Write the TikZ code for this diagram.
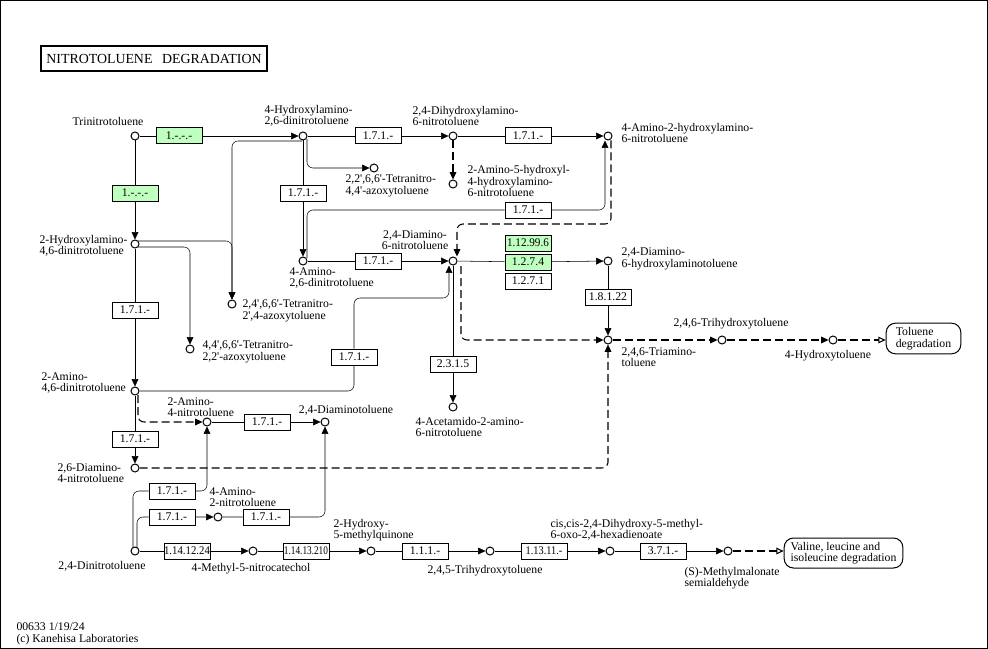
\documentclass[tikz,border=0pt]{standalone}
\usepackage{fontspec}
\setmainfont{Liberation Serif}
\usetikzlibrary{arrows.meta,positioning,backgrounds}
\definecolor{kgreen}{HTML}{BFFFBF}
\newcommand{\kfont}{\fontsize{8.8pt}{8.7pt}\selectfont}
\newcommand{\kcond}[2]{\scalebox{#1}[1]{#2}}
\newcommand{\pr}{\textquotesingle}
\tikzset{
    cpd/.style={circle, draw, fill=white, inner sep=0pt, minimum size=6pt},
    enz/.style={draw, fill=white, inner sep=0pt, minimum width=34.5pt, minimum height=12pt, font=\kfont},
    enzg/.style={enz, fill=kgreen},
    lbl/.style={inner sep=0pt, align=left, font=\kfont},
    mapbox/.style={draw, fill=white, rounded corners=7pt, inner sep=0pt, align=left, font=\kfont},
    arr/.style={-{Triangle[length=5.5pt,width=5pt]}},
    arro/.style={-{Triangle[open,length=5.5pt,width=5pt]}},
    dsh/.style={dash pattern=on 6pt off 3pt, line width=0.8pt},
    rnd/.style={rounded corners=4.5pt}
}
\begin{document}
\begin{tikzpicture}[x=0.75pt, y=-0.75pt, line width=0.75pt]
    %--------------------%
    % Frame and Title
    %--------------------%
    \useasboundingbox (0,0) rectangle (988,649);
    \draw (0.5,0.5) rectangle (987.5,648.5);
    \node[draw, line width=1.5pt, minimum width=169.5pt, minimum height=18.75pt, inner sep=0pt,
        font=\fontsize{10.4pt}{12pt}\selectfont] (title) at (154,59) {NITROTOLUENE\hspace{0.7em}DEGRADATION};

    %--------------------%
    % Compounds
    %--------------------%
    \node[cpd] (tnt) at (135,136) {};
    \node[cpd] (hadnt4) at (303,136) {};
    \node[cpd] (dhant) at (453,136) {};
    \node[cpd] (ahant) at (608,136) {};
    \node[cpd] (ahhant) at (453,184) {};
    \node[cpd] (azo1) at (374,168) {};
    \node[cpd] (hadnt2) at (135,244) {};
    \node[cpd] (adnt4) at (303,261) {};
    \node[cpd] (dant24) at (453,261) {};
    \node[cpd] (dahat) at (608,261) {};
    \node[cpd] (azo2) at (232,304) {};
    \node[cpd] (azo3) at (190,349) {};
    \node[cpd] (tat) at (608,340) {};
    \node[cpd] (tht246) at (722,340) {};
    \node[cpd] (ht4) at (833,340) {};
    \node[cpd] (adnt2) at (135,391) {};
    \node[cpd] (aant) at (453,407) {};
    \node[cpd] (ant2) at (207,422) {};
    \node[cpd] (dat) at (325,422) {};
    \node[cpd] (dant26) at (135,468) {};
    \node[cpd] (ant4) at (218,517) {};
    \node[cpd] (dnt) at (135,551) {};
    \node[cpd] (mnc) at (253,551) {};
    \node[cpd] (hmq) at (371,551) {};
    \node[cpd] (tht245) at (490,551) {};
    \node[cpd] (dhmoh) at (610,551) {};
    \node[cpd] (mmsa) at (728,551) {};

    %--------------------%
    % Pathway Maps
    %--------------------%
    \node[mapbox, minimum width=56pt, minimum height=23pt] (map_tol) at (923.5,338.5) {Toluene\\degradation};
    \node[mapbox, minimum width=89pt, minimum height=22.5pt] (map_val) at (843.5,553) {Valine, leucine and\\isoleucine degradation};

    %--------------------%
    % Enzymes
    %--------------------%
    \node[enzg] (e_tnt_a) at (179,136) {1.-.-.-};
    \node[enzg] (e_tnt_b) at (135,193) {1.-.-.-};
    \node[enz] (e_h4_dh) at (378,136) {1.7.1.-};
    \node[enz] (e_dh_ah) at (528,136) {1.7.1.-};
    \node[enz] (e_h4_a4) at (303,193) {1.7.1.-};
    \node[enz] (e_a4_ah) at (528,210) {1.7.1.-};
    \node[enz] (e_a4_da) at (378,261) {1.7.1.-};
    \node[enzg] (e_da_1274) at (528,262) {1.2.7.4};
    \node[enzg, above=1.5pt of e_da_1274] (e_da_11299) {\kcond{0.95}{1.12.99.6}};
    \node[enz, below=1.5pt of e_da_1274] (e_da_1271) {1.2.7.1};
    \node[enz] (e_dh_tat) at (608,297) {1.8.1.22};
    \node[enz] (e_da_aa) at (453,364) {2.3.1.5};
    \node[enz] (e_h2_a2) at (135,310) {1.7.1.-};
    \node[enz] (e_a2_da) at (354,357) {1.7.1.-};
    \node[enz] (e_a2_d26) at (135,439) {1.7.1.-};
    \node[enz] (e_n2_dat) at (267,422) {1.7.1.-};
    \node[enz] (e_dnt_n2) at (172,491) {1.7.1.-};
    \node[enz] (e_dnt_n4) at (172,517) {1.7.1.-};
    \node[enz] (e_n4_dat) at (266,517) {1.7.1.-};
    \node[enz] (e_dnt_mnc) at (187,551) {\kcond{0.92}{1.14.12.24}};
    \node[enz] (e_mnc_hmq) at (306,551) {\kcond{0.79}{1.14.13.210}};
    \node[enz] (e_hmq_tht) at (425,551) {1.1.1.-};
    \node[enz] (e_tht_dh) at (544,551) {\kcond{0.88}{1.13.11.-}};
    \node[enz] (e_dh_mm) at (663,551) {3.7.1.-};

    %--------------------%
    % Connections
    %--------------------%
    \begin{scope}[on background layer]
    % Trinitrotoluene
    \draw[arr] (tnt) -- (e_tnt_a) -- (hadnt4);
    \draw[arr] (tnt) -- (e_tnt_b) -- (hadnt2);
    % 4-Hydroxylamino-2,6-dinitrotoluene
    \draw[arr] (hadnt4) -- (e_h4_dh) -- (dhant);
    \draw[arr] (hadnt4) -- (e_h4_a4) -- (adnt4);
    \draw[arr, rnd] ([shift={(4,3)}]hadnt4.center) |- (azo1);
    \draw[arr, rnd] ([shift={(-1,5)}]hadnt4.center) -| (azo2);
    % 2,4-Dihydroxylamino-6-nitrotoluene
    \draw[arr] (dhant) -- (e_dh_ah) -- (ahant);
    \draw[arr, dsh] (dhant) -- (ahhant);
    % 2-Hydroxylamino-4,6-dinitrotoluene
    \draw[arr] (hadnt2) -- (e_h2_a2) -- (adnt2);
    \draw[arr, rnd] ([shift={(3,-3)}]hadnt2.center) -| (azo2);
    \draw[arr, rnd] ([shift={(3,3)}]hadnt2.center) -| (azo3);
    % 4-Amino-2,6-dinitrotoluene
    \draw[arr] (adnt4) -- (e_a4_da) -- (dant24);
    \draw[arr, rnd] ([shift={(4,-3)}]adnt4.center) |- (e_a4_ah) -| ([shift={(-3,0)}]ahant.south);
    \draw[arr, dsh, rnd] ([shift={(3,0)}]ahant.south) |- ([shift={(4,-37)}]dant24.center) -- ([shift={(4,0)}]dant24.north);
    % 2,4-Diamino-6-nitrotoluene
    \draw[arr] (dant24) -- (e_da_1274) -- (dahat);
    \draw[arr] (dahat) -- (e_dh_tat) -- (tat);
    \draw[arr] (dant24) -- (e_da_aa) -- (aant);
    \draw[arr, dsh, rnd] ([shift={(8,5)}]dant24.center) |- (tat);
    % 2-Amino-4,6-dinitrotoluene
    \draw[arr, rnd] (adnt2) -| (e_a2_da) |- ([shift={(-4,37)}]dant24.center) -- ([shift={(-4,0)}]dant24.south);
    \draw[arr] (adnt2) -- (e_a2_d26) -- (dant26);
    \draw[arr, dsh, rnd] ([shift={(3,4)}]adnt2.center) |- (ant2);
    \draw[arr, dsh, rnd] (dant26) -| (tat);
    % 2,4-Dinitrotoluene
    \draw[arr] (ant2) -- (e_n2_dat) -- (dat);
    \draw[arr, rnd] ([shift={(-2,-3)}]dnt.center) |- (e_dnt_n2) -| (ant2);
    \draw[arr, rnd] ([shift={(2,-3)}]dnt.center) |- (e_dnt_n4) -- (ant4);
    \draw[arr, rnd] (ant4) -- (e_n4_dat) -| (dat);
    \draw[arr] (dnt) -- (e_dnt_mnc) -- (mnc);
    \draw[arr] (mnc) -- (e_mnc_hmq) -- (hmq);
    \draw[arr] (hmq) -- (e_hmq_tht) -- (tht245);
    \draw[arr] (tht245) -- (e_tht_dh) -- (dhmoh);
    \draw[arr] (dhmoh) -- (e_dh_mm) -- (mmsa);
    \draw[arro, dsh] (mmsa) -- (mmsa -| map_val.west);
    % 2,4,6-Triaminotoluene
    \draw[arr, dsh] (tat) -- (tht246);
    \draw[arr, dsh] (tht246) -- (ht4);
    \draw[arro, dsh] (ht4) -- (ht4 -| map_tol.west);
    \end{scope}

    %--------------------%
    % Compound Labels
    %--------------------%
    \node[lbl] (l_tnt) at (108,121) {Trinitrotoluene};
    \node[lbl, anchor=west] (l_hadnt4) at (264,116) {4-Hydroxylamino-\\2,6-dinitrotoluene};
    \node[lbl, anchor=west] (l_dhant) at (412,116) {2,4-Dihydroxylamino-\\6-nitrotoluene};
    \node[lbl, anchor=west] (l_ahant) at (621,133) {4-Amino-2-hydroxylamino-\\6-nitrotoluene};
    \node[lbl, anchor=west] (l_ahhant) at (467,181) {2-Amino-5-hydroxyl-\\4-hydroxylamino-\\6-nitrotoluene};
    \node[lbl, anchor=west] (l_azo1) at (345,186) {2,2\pr,6,6\pr-Tetranitro-\\4,4\pr-azoxytoluene};
    \node[lbl, anchor=west] (l_hadnt2) at (39,246) {2-Hydroxylamino-\\4,6-dinitrotoluene};
    \node[lbl, anchor=west] (l_adnt4) at (289,278) {4-Amino-\\2,6-dinitrotoluene};
    \node[lbl, align=center] (l_dant24) at (415,240) {2,4-Diamino-\\6-nitrotoluene};
    \node[lbl, anchor=west] (l_dahat) at (621,259) {2,4-Diamino-\\6-hydroxylaminotoluene};
    \node[lbl, anchor=west] (l_azo2) at (242,311) {2,4\pr,6,6\pr-Tetranitro-\\2\pr,4-azoxytoluene};
    \node[lbl, anchor=west] (l_azo3) at (202,352) {4,4\pr,6,6\pr-Tetranitro-\\2,2\pr-azoxytoluene};
    \node[lbl, anchor=west] (l_tat) at (621,357) {2,4,6-Triamino-\\toluene};
    \node[lbl] (l_tht246) at (731,324) {2,4,6-Trihydroxytoluene};
    \node[lbl] (l_ht4) at (828,356) {4-Hydroxytoluene};
    \node[lbl, anchor=west] (l_adnt2) at (41,383) {2-Amino-\\4,6-dinitrotoluene};
    \node[lbl, anchor=west] (l_aant) at (415,427) {4-Acetamido-2-amino-\\6-nitrotoluene};
    \node[lbl, anchor=west] (l_ant2) at (167,407) {2-Amino-\\4-nitrotoluene};
    \node[lbl] (l_dat) at (346,410) {2,4-Diaminotoluene};
    \node[lbl, anchor=west] (l_dant26) at (57,473) {2,6-Diamino-\\4-nitrotoluene};
    \node[lbl, anchor=west] (l_ant4) at (209,497) {4-Amino-\\2-nitrotoluene};
    \node[lbl] (l_dnt) at (102,566) {2,4-Dinitrotoluene};
    \node[lbl] (l_mnc) at (251,569) {4-Methyl-5-nitrocatechol};
    \node[lbl, anchor=west] (l_hmq) at (333,530) {2-Hydroxy-\\5-methylquinone};
    \node[lbl] (l_tht245) at (485,571) {2,4,5-Trihydroxytoluene};
    \node[lbl, anchor=west] (l_dhmoh) at (550,530) {cis,cis-2,4-Dihydroxy-5-methyl-\\6-oxo-2,4-hexadienoate};
    \node[lbl, anchor=west] (l_mmsa) at (684,578) {(S)-Methylmalonate\\semialdehyde};

    %--------------------%
    % Footer
    %--------------------%
    \node[lbl, anchor=west] (l_ver) at (16,627) {00633 1/19/24};
    \node[lbl, anchor=west] (l_copy) at (16,640) {(c) Kanehisa Laboratories};
\end{tikzpicture}
\end{document}
